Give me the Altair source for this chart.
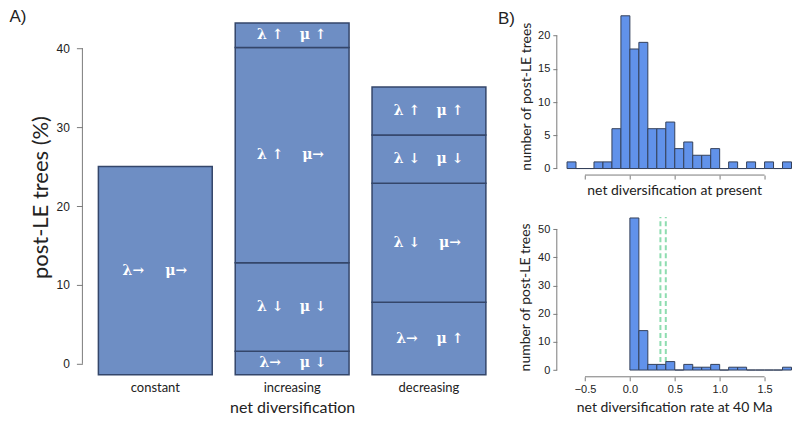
import altair as alt
import pandas as pd

# ---------------- Panel A data ----------------
groups = ["constant", "increasing", "decreasing"]
seg_group = ["constant",
             "increasing", "increasing", "increasing", "increasing",
             "decreasing", "decreasing", "decreasing", "decreasing"]
seg_top = [25.0,
           1.6, 12.8, 40.1, 43.2,
           7.8, 22.9, 29.0, 35.1]
seg_lambda = ["λ→", "λ→", "λ ↓", "λ ↑", "λ ↑", "λ→", "λ ↓", "λ ↓", "λ ↑"]
seg_mu = ["μ→", "μ ↓", "μ ↓", "μ→", "μ ↑", "μ ↑", "μ→", "μ ↓", "μ ↑"]
bar_base = -1.4
y_ticks_a = [0, 10, 20, 30, 40]

# ---------------- Panel B data ----------------
bin_width = 0.1
top_start = -0.7
top_counts = [1, 0, 0, 1, 1, 6, 23, 18, 19, 6, 6, 7, 3, 4, 2, 2, 3, 0, 1, 0, 1, 0, 1, 0, 1]
bottom_start = 0.0
bottom_counts = [54, 14, 2, 2, 3, 0, 2, 1, 1, 2, 0, 1, 1, 0, 0, 0, 0, 1]
x_ticks_b = [-0.5, 0.0, 0.5, 1.0, 1.5]
top_y_ticks = [0, 5, 10, 15, 20]
bottom_y_ticks = [0, 10, 20, 30, 40, 50]
mean_lines = [0.34, 0.40]

# ---------------- build tables ----------------
rows = []
prev = {}
for g, t, l, m in zip(seg_group, seg_top, seg_lambda, seg_mu):
    b = prev.get(g, bar_base)
    rows.append({"group": g, "bottom": b, "top": t, "mid": (b + t) / 2, "lam": l, "mu": m})
    prev[g] = t
seg_df = pd.DataFrame(rows)

def hist_df(start, counts):
    return pd.DataFrame({
        "x0": [round(start + i * bin_width, 3) for i in range(len(counts))],
        "x1": [round(start + (i + 1) * bin_width, 3) for i in range(len(counts))],
        "count": counts,
    })

top_df = hist_df(top_start, top_counts)
bot_df = hist_df(bottom_start, bottom_counts)

TITLE_FONT = "Lato"
LABEL_FONT = "Liberation Sans"
AX_COL = "#7a7a7a"
TXT_COL = "#222222"

# ---------------- Panel A chart ----------------
A_W, A_H = 411, 360
ya_scale = alt.Scale(domain=[-1.39, 44.18], nice=False, zero=False)
xa_axis = alt.Axis(title="net diversification", ticks=False, domain=False,
                   labelAngle=0, labelFont=TITLE_FONT, labelFontSize=13,
                   labelColor=TXT_COL, labelPadding=7,
                   titleFont=TITLE_FONT, titleFontSize=16, titleFontWeight="normal",
                   titleColor=TXT_COL, titlePadding=5)
xa_scale = alt.Scale(paddingInner=0.168, paddingOuter=0.084)
ya_axis = alt.Axis(values=y_ticks_a, domain=False, tickSize=6, offset=4.5,
                   tickColor=AX_COL, labelFont=LABEL_FONT, labelFontSize=12,
                   labelColor=TXT_COL, labelPadding=7,
                   title="post-LE trees (%)", titleFont=TITLE_FONT, titleFontSize=22,
                   titleFontWeight="normal", titleColor=TXT_COL,
                   titleAngle=-90, titleX=-42, titleY=182,
                   titleAlign="center", titleBaseline="middle")

def xa(field="group:N"):
    return alt.X(field, sort=groups, scale=xa_scale, axis=xa_axis)

def ya(field):
    return alt.Y(field, scale=ya_scale, axis=ya_axis)

bars_a = alt.Chart(seg_df).mark_bar(fill="#6E8EC4", stroke="#34466A", strokeWidth=1.5).encode(
    x=xa(), y=ya("bottom:Q"), y2="top:Q")
lab_l = alt.Chart(seg_df).mark_text(color="white", font="DejaVu Serif", fontWeight="bold",
                                    fontSize=14, dx=-22, baseline="middle").encode(
    x=xa(), y=ya("mid:Q"), text="lam:N")
lab_m = alt.Chart(seg_df).mark_text(color="white", font="DejaVu Serif", fontWeight="bold",
                                    fontSize=14, dx=21, baseline="middle").encode(
    x=xa(), y=ya("mid:Q"), text="mu:N")
axis_line_a = alt.Chart(pd.DataFrame({"y0": [min(y_ticks_a)], "y1": [max(y_ticks_a)]})).mark_rule(
    color=AX_COL, strokeWidth=1).encode(x=alt.value(-4.5), y=ya("y0:Q"), y2="y1:Q")
label_a = alt.Chart(pd.DataFrame({"t": ["A)"]})).mark_text(
    align="left", baseline="middle", fontSize=17, font=LABEL_FONT, color=TXT_COL).encode(
    x=alt.value(-77.5), y=alt.value(2), text="t:N")
anchor = alt.Chart(pd.DataFrame({"t": [0]})).mark_rule(strokeOpacity=0, opacity=0).encode(
    x=alt.value(-78.5), x2=alt.value(-77.5), y=alt.value(-7), y2=alt.value(-6))

panel_a = alt.layer(anchor, bars_a, lab_l, lab_m, axis_line_a, label_a).properties(width=A_W, height=A_H)

# ---------------- Panel B charts ----------------
B_W, B_H = 235, 160
xb_scale = alt.Scale(domain=[-0.814, 1.8], nice=False, zero=False)
HIST_FILL = "#6192EA"
HIST_STROKE = "#34405A"

top_x_axis = alt.Axis(values=x_ticks_b, labels=False, domain=False, tickSize=4,
                      tickColor=AX_COL, title="net diversification at present",
                      titleFont=TITLE_FONT, titleFontSize=14, titleFontWeight="normal",
                      titleColor=TXT_COL, titlePadding=4)
top_y_scale = alt.Scale(domain=[-0.98, 23.08], nice=False, zero=False)
top_y_axis = alt.Axis(values=top_y_ticks, domain=False, tickSize=4, tickColor=AX_COL,
                      labelFont=LABEL_FONT, labelFontSize=11, labelColor=TXT_COL,
                      labelPadding=3, title="number of post-LE trees",
                      titleFont=TITLE_FONT, titleFontSize=14, titleFontWeight="normal",
                      titleColor=TXT_COL, titleAngle=-90, titleX=-30, titleY=81,
                      titleAlign="center", titleBaseline="middle")

top_bars = alt.Chart(top_df).mark_rect(fill=HIST_FILL, stroke=HIST_STROKE, strokeWidth=1).encode(
    x=alt.X("x0:Q", scale=xb_scale, axis=top_x_axis), x2="x1:Q",
    y=alt.Y("count:Q", scale=top_y_scale, axis=top_y_axis), y2=alt.datum(0))
top_xline = alt.Chart(pd.DataFrame({"x0": [min(x_ticks_b)], "x1": [max(x_ticks_b)]})).mark_rule(
    color=AX_COL).encode(x=alt.X("x0:Q", scale=xb_scale, axis=top_x_axis), x2="x1:Q",
                         y=alt.value(B_H))
top_yline = alt.Chart(pd.DataFrame({"count": [min(top_y_ticks)], "c2": [max(top_y_ticks)]})).mark_rule(
    color=AX_COL).encode(y=alt.Y("count:Q", scale=top_y_scale, axis=top_y_axis), y2="c2:Q",
                         x=alt.value(0))
label_b = alt.Chart(pd.DataFrame({"t": ["B)"]})).mark_text(
    align="left", baseline="middle", fontSize=17, font=LABEL_FONT, color=TXT_COL).encode(
    x=alt.value(-59), y=alt.value(4), text="t:N")
panel_top = alt.layer(top_bars, top_xline, top_yline, label_b).properties(width=B_W, height=B_H)

bot_x_axis = alt.Axis(values=x_ticks_b, format=".1f", domain=False, tickSize=4,
                      tickColor=AX_COL, labelFont=LABEL_FONT, labelFontSize=11,
                      labelColor=TXT_COL, labelPadding=3,
                      title="net diversification rate at 40 Ma",
                      titleFont=TITLE_FONT, titleFontSize=14, titleFontWeight="normal",
                      titleColor=TXT_COL, titlePadding=6)
bot_y_scale = alt.Scale(domain=[-2.4, 54.35], nice=False, zero=False)
bot_y_axis = alt.Axis(values=bottom_y_ticks, domain=False, tickSize=4, tickColor=AX_COL,
                      labelFont=LABEL_FONT, labelFontSize=11, labelColor=TXT_COL,
                      labelPadding=3, title="number of post-LE trees",
                      titleFont=TITLE_FONT, titleFontSize=14, titleFontWeight="normal",
                      titleColor=TXT_COL, titleAngle=-90, titleX=-31, titleY=80,
                      titleAlign="center", titleBaseline="middle")

mean_rules = alt.Chart(pd.DataFrame({"x0": mean_lines})).mark_rule(
    color="#8EDDB0", strokeWidth=2, strokeDash=[5, 3]).encode(
    x=alt.X("x0:Q", scale=xb_scale, axis=bot_x_axis),
    y=alt.Y("count:Q", scale=bot_y_scale, axis=bot_y_axis), y2=alt.value(0)
).transform_calculate(count="0")
bot_bars = alt.Chart(bot_df).mark_rect(fill=HIST_FILL, stroke=HIST_STROKE, strokeWidth=1).encode(
    x=alt.X("x0:Q", scale=xb_scale, axis=bot_x_axis), x2="x1:Q",
    y=alt.Y("count:Q", scale=bot_y_scale, axis=bot_y_axis), y2=alt.datum(0))
bot_xline = alt.Chart(pd.DataFrame({"x0": [min(x_ticks_b)], "x1": [max(x_ticks_b)]})).mark_rule(
    color=AX_COL).encode(x=alt.X("x0:Q", scale=xb_scale, axis=bot_x_axis), x2="x1:Q",
                         y=alt.value(B_H))
bot_yline = alt.Chart(pd.DataFrame({"count": [min(bottom_y_ticks)], "c2": [max(bottom_y_ticks)]})).mark_rule(
    color=AX_COL).encode(y=alt.Y("count:Q", scale=bot_y_scale, axis=bot_y_axis), y2="c2:Q",
                         x=alt.value(0))
panel_bot = alt.layer(mean_rules, bot_bars, bot_xline, bot_yline).properties(width=B_W, height=B_H)

right = alt.vconcat(panel_top, panel_bot, spacing=42, bounds="flush")
chart = alt.hconcat(panel_a, right, spacing=59.5, bounds="flush").properties(
    padding=0
).configure_view(stroke=None).configure_axis(grid=False)

chart.save("out.html", embed_options={"renderer": "svg", "actions": False})
